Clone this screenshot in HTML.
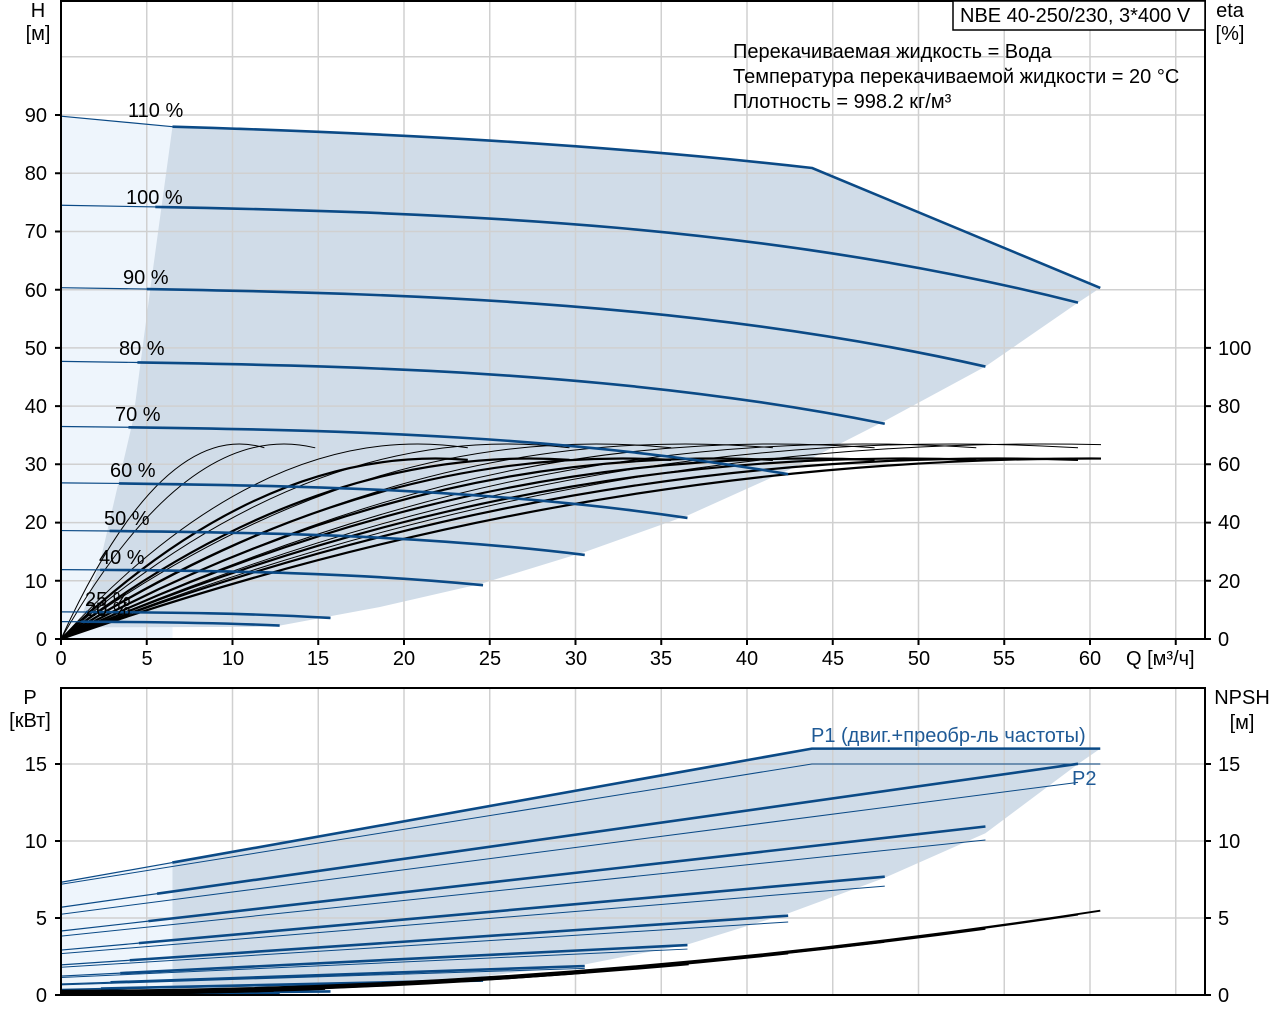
<!DOCTYPE html>
<html><head><meta charset="utf-8"><style>
body{margin:0;background:#fff;width:1280px;height:1024px;overflow:hidden}
svg text{font-family:"Liberation Sans",sans-serif;font-size:20px;fill:#000}
</style></head><body>
<svg width="1280" height="1024" xmlns="http://www.w3.org/2000/svg">
<defs>
<clipPath id="ct"><rect x="61" y="1" width="1040" height="638"/></clipPath>
<clipPath id="cb"><rect x="61" y="688" width="1144" height="307"/></clipPath>
<path id="st" vector-effect="non-scaling-stroke" fill="none" d="M0,74.5 L5.6,74.21"/>
<path id="sk" vector-effect="non-scaling-stroke" fill="none" d="M5.5,74.214 C23.43,73.21 41.37,71.154 59.3,57.771"/>
<path id="et" vector-effect="non-scaling-stroke" fill="none" d="M0,0 Q29.65,76.4 59.3,65.68"/>
<path id="ek" vector-effect="non-scaling-stroke" fill="none" d="M0,0 Q29.65,67.33 59.3,61.54"/>
<path id="pt" vector-effect="non-scaling-stroke" fill="none" d="M0,5.7 L5.6,6.579"/>
<path id="pk" vector-effect="non-scaling-stroke" fill="none" d="M5.6,6.579 L59.3,15.01"/>
<path id="p2" vector-effect="non-scaling-stroke" fill="none" d="M0,5.244 L59.3,13.81"/>
<path id="pk11" vector-effect="non-scaling-stroke" fill="none" d="M5.9,6.46 L39.8,12.02 L55.09,12.02"/>
<path id="p211" vector-effect="non-scaling-stroke" fill="none" d="M0,5.4 L39.8,11.27 L55.09,11.27"/>
</defs>

<!-- backgrounds top -->
<g transform="translate(61,639) scale(17.15,-5.822)">
<path d="M0,0 L0,89.8 L6.5,88.0 L6.5,0 Z" fill="#eef5fc"/>
<path d="M6.5,88.0 C19,86.9 31.5,85 43.8,80.9 L60.6,60.3 L59.3,57.77 L53.9,46.8 L48,37.4 L42.4,29 L36.6,21.3 L30.6,15 L24.5,9.5 L18.6,5.5 L12.4,2.1 L1,2 L2.3,13.5 L4.2,37.6 L5.2,60 Z" fill="#d0dce8"/>
</g>
<g transform="translate(61,995) scale(17.15,-15.4)">
<path d="M0,0 L0,7.3 L6.5,8.6 L6.5,0 Z" fill="#eef5fc"/>
<path d="M6.5,8.6 L43.8,16 L60.6,16 L59.3,15 L53.9,10.5 L48,7.6 L42.4,5.3 L36.6,3.3 L30.6,2.0 L24.5,1.2 L15,0.5 L6.5,0.3 Z" fill="#d0dce8"/>
</g>

<!-- grid -->
<g stroke="#d0d0d0" stroke-width="1.5">
<path d="M146.75,1V639M232.5,1V639M318.25,1V639M404,1V639M489.75,1V639M575.5,1V639M661.25,1V639M747,1V639M832.75,1V639M918.5,1V639M1004.25,1V639M1090,1V639M1175.75,1V639"/>
<path d="M146.75,688V995M232.5,688V995M318.25,688V995M404,688V995M489.75,688V995M575.5,688V995M661.25,688V995M747,688V995M832.75,688V995M918.5,688V995M1004.25,688V995M1090,688V995M1175.75,688V995"/>
<path d="M61,580.8H1205M61,522.6H1205M61,464.3H1205M61,406.1H1205M61,347.9H1205M61,289.7H1205M61,231.5H1205M61,173.2H1205M61,115H1205M61,56.8H1205"/>
<path d="M61,918H1205M61,841H1205M61,764H1205"/>
</g>

<!-- efficiency curves -->
<g clip-path="url(#ct)" stroke="#000">
<g transform="translate(61,639) scale(17.15,-2.911)">
<use href="#et" transform="scale(0.2,1)" stroke-width="1"/>
<use href="#et" transform="scale(0.25,1)" stroke-width="1"/>
<use href="#et" transform="scale(0.4,1)" stroke-width="1"/>
<use href="#et" transform="scale(0.5,1)" stroke-width="1"/>
<use href="#et" transform="scale(0.6,1)" stroke-width="1"/>
<use href="#et" transform="scale(0.7,1)" stroke-width="1"/>
<use href="#et" transform="scale(0.8,1)" stroke-width="1"/>
<use href="#et" transform="scale(0.9,1)" stroke-width="1"/>
<use href="#et" transform="scale(1,1)" stroke-width="1"/>
<use href="#et" transform="scale(1.1,1)" stroke-width="1"/>
<use href="#ek" transform="scale(0.4,1)" stroke-width="2.2"/>
<use href="#ek" transform="scale(0.5,1)" stroke-width="2.2"/>
<use href="#ek" transform="scale(0.6,1)" stroke-width="2.2"/>
<use href="#ek" transform="scale(0.7,1)" stroke-width="2.2"/>
<use href="#ek" transform="scale(0.8,1)" stroke-width="2.2"/>
<use href="#ek" transform="scale(0.9,1)" stroke-width="2.2"/>
<use href="#ek" transform="scale(1,1)" stroke-width="2.2"/>
<use href="#ek" transform="scale(1.1,1)" stroke-width="2.2"/>
</g>
</g>

<!-- speed curves -->
<g stroke="#0b4a86" transform="translate(61,639) scale(17.15,-5.822)">
<g transform="scale(0.215,0.04)"><use href="#st" stroke-width="1.2"/><use href="#sk" stroke-width="2.6"/></g>
<g transform="scale(0.265,0.0625)"><use href="#st" stroke-width="1.2"/><use href="#sk" stroke-width="2.6"/></g>
<g transform="scale(0.415,0.16)"><use href="#st" stroke-width="1.2"/><use href="#sk" stroke-width="2.6"/></g>
<g transform="scale(0.515,0.25)"><use href="#st" stroke-width="1.2"/><use href="#sk" stroke-width="2.6"/></g>
<g transform="scale(0.616,0.36)"><use href="#st" stroke-width="1.2"/><use href="#sk" stroke-width="2.6"/></g>
<g transform="scale(0.715,0.49)"><use href="#st" stroke-width="1.2"/><use href="#sk" stroke-width="2.6"/></g>
<g transform="scale(0.81,0.64)"><use href="#st" stroke-width="1.2"/><use href="#sk" stroke-width="2.6"/></g>
<g transform="scale(0.909,0.81)"><use href="#st" stroke-width="1.2"/><use href="#sk" stroke-width="2.6"/></g>
<g transform="scale(1,1)"><use href="#st" stroke-width="1.2"/><use href="#sk" stroke-width="2.6"/></g>
<path vector-effect="non-scaling-stroke" fill="none" stroke-width="1.2" d="M0,89.8 L6.5,88.0"/>
<path vector-effect="non-scaling-stroke" fill="none" stroke-width="2.6" d="M6.5,88.0 C19,86.9 31.5,85 43.8,80.9 L60.6,60.3"/>
</g>

<!-- power curves -->
<g clip-path="url(#cb)">
<g stroke="#0b4a86" transform="translate(61,995) scale(17.15,-15.4)">
<g transform="scale(0.215,0.008)"><use href="#pt" stroke-width="1.2"/><use href="#pk" stroke-width="2.6"/><use href="#p2" stroke-width="1"/></g>
<g transform="scale(0.265,0.015625)"><use href="#pt" stroke-width="1.2"/><use href="#pk" stroke-width="2.6"/><use href="#p2" stroke-width="1"/></g>
<g transform="scale(0.415,0.064)"><use href="#pt" stroke-width="1.2"/><use href="#pk" stroke-width="2.6"/><use href="#p2" stroke-width="1"/></g>
<g transform="scale(0.515,0.125)"><use href="#pt" stroke-width="1.2"/><use href="#pk" stroke-width="2.6"/><use href="#p2" stroke-width="1"/></g>
<g transform="scale(0.616,0.216)"><use href="#pt" stroke-width="1.2"/><use href="#pk" stroke-width="2.6"/><use href="#p2" stroke-width="1"/></g>
<g transform="scale(0.715,0.343)"><use href="#pt" stroke-width="1.2"/><use href="#pk" stroke-width="2.6"/><use href="#p2" stroke-width="1"/></g>
<g transform="scale(0.81,0.512)"><use href="#pt" stroke-width="1.2"/><use href="#pk" stroke-width="2.6"/><use href="#p2" stroke-width="1"/></g>
<g transform="scale(0.909,0.729)"><use href="#pt" stroke-width="1.2"/><use href="#pk" stroke-width="2.6"/><use href="#p2" stroke-width="1"/></g>
<g transform="scale(1,1)"><use href="#pt" stroke-width="1.2"/><use href="#pk" stroke-width="2.6"/><use href="#p2" stroke-width="1"/></g>
<g transform="scale(1.1,1.331)"><path vector-effect="non-scaling-stroke" fill="none" stroke-width="1.2" d="M0,5.5 L5.9,6.46"/><use href="#pk11" stroke-width="2.6"/><use href="#p211" stroke-width="1"/></g>
</g>
<g stroke="#000" stroke-width="2" fill="none" transform="translate(61,995) scale(17.15,-15.4)">
<path vector-effect="non-scaling-stroke" d="M0,0.275 Q30.3,0.275 60.6,5.475"/>
<path vector-effect="non-scaling-stroke" d="M0,0.25 Q29.65,0.25 59.3,5.23"/>
<path vector-effect="non-scaling-stroke" d="M0,0.225 Q26.9,0.225 53.9,4.3"/>
<path vector-effect="non-scaling-stroke" d="M0,0.2 Q24,0.2 48,3.45"/>
<path vector-effect="non-scaling-stroke" d="M0,0.175 Q21.2,0.175 42.4,2.7"/>
<path vector-effect="non-scaling-stroke" d="M0,0.15 Q18.3,0.15 36.6,2.0"/>
<path vector-effect="non-scaling-stroke" d="M0,0.125 Q15.3,0.125 30.6,1.45"/>
<path vector-effect="non-scaling-stroke" d="M0,0.1 Q12.2,0.1 24.5,0.95"/>
<path vector-effect="non-scaling-stroke" d="M0,0.06 Q7.7,0.06 15.4,0.4"/>
<path vector-effect="non-scaling-stroke" d="M0,0.05 Q6.2,0.05 12.4,0.27"/>
</g>
</g>

<!-- frames -->
<g stroke="#000" stroke-width="2" fill="none">
<rect x="61" y="1" width="1144" height="638"/>
<rect x="61" y="688" width="1144" height="307"/>
<path d="M61,639v6M146.75,639v6M232.5,639v6M318.25,639v6M404,639v6M489.75,639v6M575.5,639v6M661.25,639v6M747,639v6M832.75,639v6M918.5,639v6M1004.25,639v6M1090,639v6M1175.75,639v6"/>
<path d="M55,639h6M55,580.8h6M55,522.6h6M55,464.3h6M55,406.1h6M55,347.9h6M55,289.7h6M55,231.5h6M55,173.2h6M55,115h6"/>
<path d="M1205,639h6M1205,580.8h6M1205,522.6h6M1205,464.3h6M1205,406.1h6M1205,347.9h6"/>
<path d="M55,995h6M55,918h6M55,841h6M55,764h6M1205,995h6M1205,918h6M1205,841h6M1205,764h6"/>
</g>

<rect x="953" y="1" width="252" height="29" fill="#fff" stroke="#000" stroke-width="1.5"/>
<text x="960" y="22">NBE 40-250/230, 3*400 V</text>
<text x="733" y="58">Перекачиваемая жидкость = Вода</text>
<text x="733" y="83">Температура перекачиваемой жидкости = 20 °C</text>
<text x="733" y="108">Плотность = 998.2 кг/м³</text>
<text x="38" y="17" text-anchor="middle">H</text>
<text x="38" y="40" text-anchor="middle">[м]</text>
<text x="1230" y="17" text-anchor="middle">eta</text>
<text x="1230" y="40" text-anchor="middle">[%]</text>
<text x="1126" y="665">Q [м³/ч]</text>
<text x="30" y="704" text-anchor="middle">P</text>
<text x="30" y="727" text-anchor="middle">[кВт]</text>
<text x="1242" y="704" text-anchor="middle">NPSH</text>
<text x="1242" y="729" text-anchor="middle">[м]</text>
<g text-anchor="end">
<text x="47" y="122">90</text><text x="47" y="180">80</text><text x="47" y="238">70</text><text x="47" y="297">60</text><text x="47" y="355">50</text><text x="47" y="413">40</text><text x="47" y="471">30</text><text x="47" y="529">20</text><text x="47" y="588">10</text><text x="47" y="646">0</text>
<text x="47" y="771">15</text><text x="47" y="848">10</text><text x="47" y="925">5</text><text x="47" y="1002">0</text>
</g>
<g>
<text x="1218" y="355">100</text><text x="1218" y="413">80</text><text x="1218" y="471">60</text><text x="1218" y="529">40</text><text x="1218" y="588">20</text><text x="1218" y="646">0</text>
<text x="1218" y="771">15</text><text x="1218" y="848">10</text><text x="1218" y="925">5</text><text x="1218" y="1002">0</text>
</g>
<g text-anchor="middle">
<text x="61" y="665">0</text><text x="147" y="665">5</text><text x="233" y="665">10</text><text x="318" y="665">15</text><text x="404" y="665">20</text><text x="490" y="665">25</text><text x="576" y="665">30</text><text x="661" y="665">35</text><text x="747" y="665">40</text><text x="833" y="665">45</text><text x="919" y="665">50</text><text x="1004" y="665">55</text><text x="1090" y="665">60</text>
</g>
<g>
<text x="128" y="117">110 %</text><text x="126" y="204">100 %</text><text x="123" y="284">90 %</text><text x="119" y="355">80 %</text><text x="115" y="421">70 %</text><text x="110" y="477">60 %</text><text x="104" y="525">50 %</text><text x="99" y="564">40 %</text><text x="85" y="606">25 %</text><text x="85" y="616">20 %</text>
</g>
<text x="811" y="742" style="fill:#1f5a96">P1 (двиг.+преобр-ль частоты)</text>
<text x="1072" y="785" style="fill:#1f5a96">P2</text>
</svg>
</body></html>
